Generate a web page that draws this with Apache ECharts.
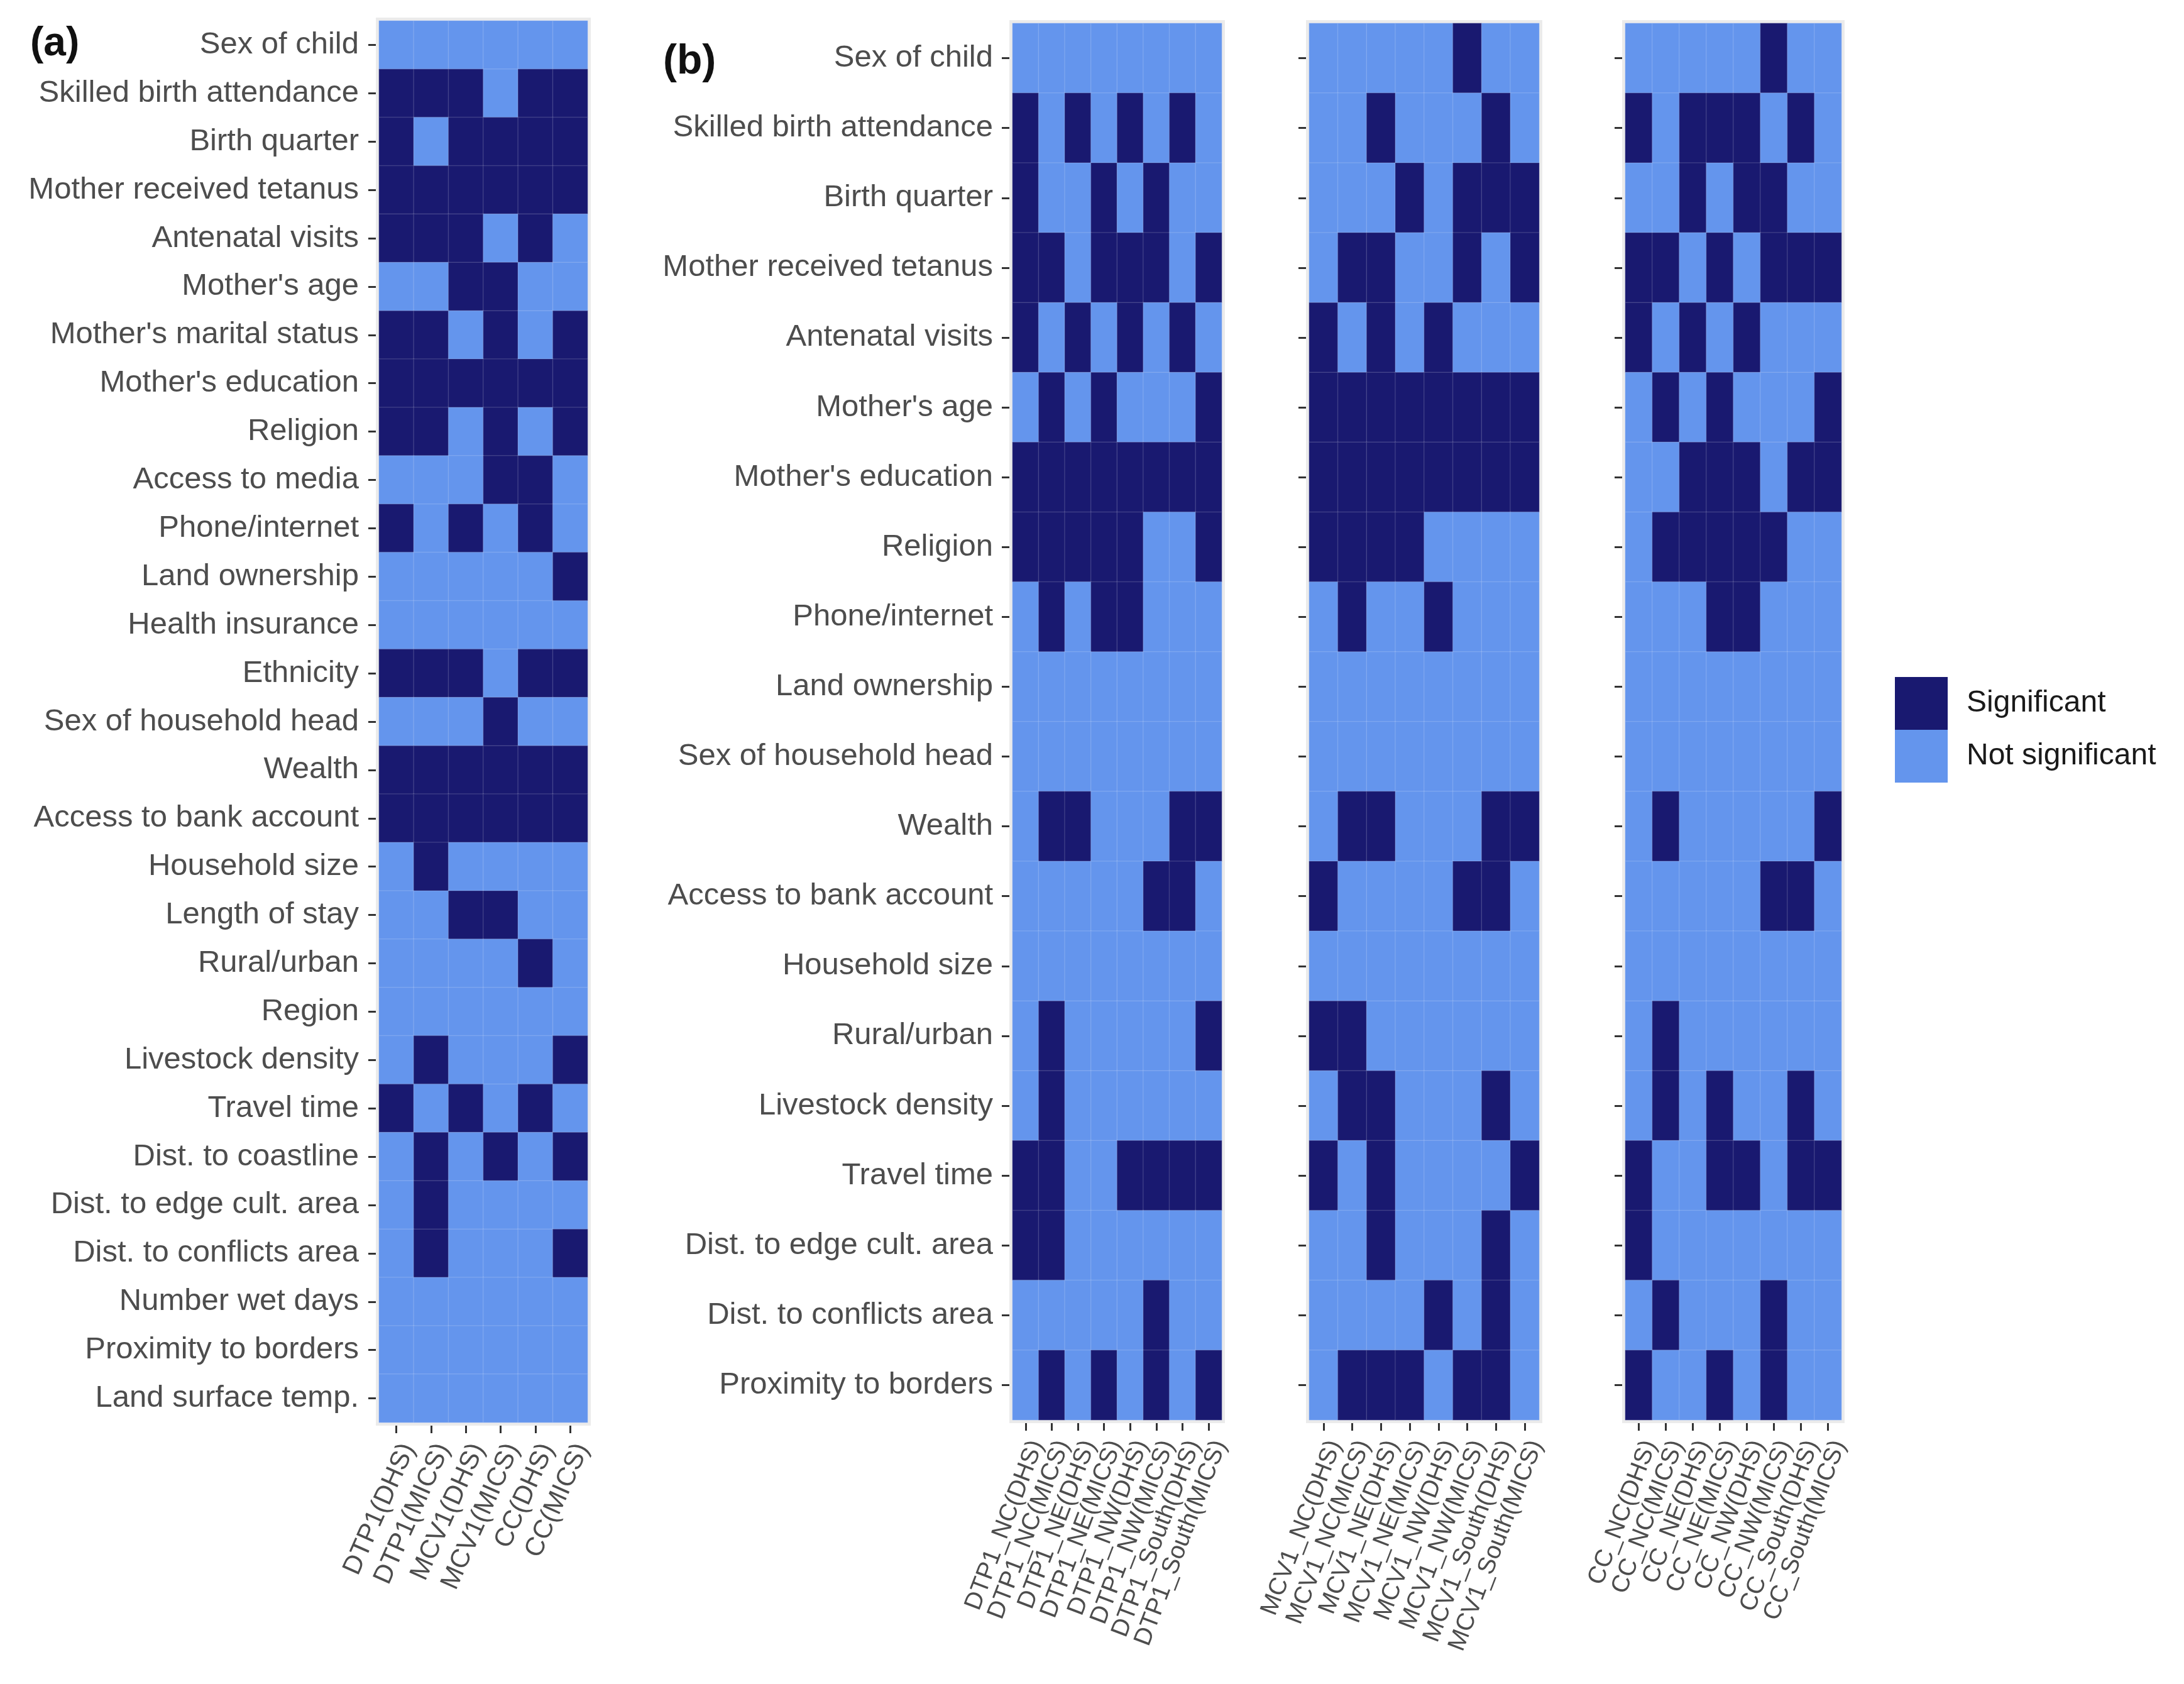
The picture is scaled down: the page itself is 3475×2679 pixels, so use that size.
<!DOCTYPE html>
<html>
<head>
<meta charset="utf-8">
<script src="https://cdn.jsdelivr.net/npm/echarts@6/dist/echarts.min.js"></script>
<style>
html,body{margin:0;padding:0;background:#fff;}
#chart{width:3475px;height:2679px;}
</style>
</head>
<body>
<div id="chart"></div>
<script>
// ---------- Data ----------
const rowsA = ['Sex of child','Skilled birth attendance','Birth quarter','Mother received tetanus','Antenatal visits',"Mother's age","Mother's marital status","Mother's education",'Religion','Access to media','Phone/internet','Land ownership','Health insurance','Ethnicity','Sex of household head','Wealth','Access to bank account','Household size','Length of stay','Rural/urban','Region','Livestock density','Travel time','Dist. to coastline','Dist. to edge cult. area','Dist. to conflicts area','Number wet days','Proximity to borders','Land surface temp.'];
const colsA = ['DTP1(DHS)','DTP1(MICS)','MCV1(DHS)','MCV1(MICS)','CC(DHS)','CC(MICS)'];
const sigA = [
  [0,0,0,0,0,0],
  [1,1,1,0,1,1],
  [1,0,1,1,1,1],
  [1,1,1,1,1,1],
  [1,1,1,0,1,0],
  [0,0,1,1,0,0],
  [1,1,0,1,0,1],
  [1,1,1,1,1,1],
  [1,1,0,1,0,1],
  [0,0,0,1,1,0],
  [1,0,1,0,1,0],
  [0,0,0,0,0,1],
  [0,0,0,0,0,0],
  [1,1,1,0,1,1],
  [0,0,0,1,0,0],
  [1,1,1,1,1,1],
  [1,1,1,1,1,1],
  [0,1,0,0,0,0],
  [0,0,1,1,0,0],
  [0,0,0,0,1,0],
  [0,0,0,0,0,0],
  [0,1,0,0,0,1],
  [1,0,1,0,1,0],
  [0,1,0,1,0,1],
  [0,1,0,0,0,0],
  [0,1,0,0,0,1],
  [0,0,0,0,0,0],
  [0,0,0,0,0,0],
  [0,0,0,0,0,0]
];

const rowsB = ['Sex of child','Skilled birth attendance','Birth quarter','Mother received tetanus','Antenatal visits',"Mother's age","Mother's education",'Religion','Phone/internet','Land ownership','Sex of household head','Wealth','Access to bank account','Household size','Rural/urban','Livestock density','Travel time','Dist. to edge cult. area','Dist. to conflicts area','Proximity to borders'];
const colsDTP1 = ['DTP1_NC(DHS)','DTP1_NC(MICS)','DTP1_NE(DHS)','DTP1_NE(MICS)','DTP1_NW(DHS)','DTP1_NW(MICS)','DTP1_South(DHS)','DTP1_South(MICS)'];
const colsMCV1 = ['MCV1_NC(DHS)','MCV1_NC(MICS)','MCV1_NE(DHS)','MCV1_NE(MICS)','MCV1_NW(DHS)','MCV1_NW(MICS)','MCV1_South(DHS)','MCV1_South(MICS)'];
const colsCC = ['CC_NC(DHS)','CC_NC(MICS)','CC_NE(DHS)','CC_NE(MICS)','CC_NW(DHS)','CC_NW(MICS)','CC_South(DHS)','CC_South(MICS)'];

const sigDTP1 = [
  [0,0,0,0,0,0,0,0],
  [1,0,1,0,1,0,1,0],
  [1,0,0,1,0,1,0,0],
  [1,1,0,1,1,1,0,1],
  [1,0,1,0,1,0,1,0],
  [0,1,0,1,0,0,0,1],
  [1,1,1,1,1,1,1,1],
  [1,1,1,1,1,0,0,1],
  [0,1,0,1,1,0,0,0],
  [0,0,0,0,0,0,0,0],
  [0,0,0,0,0,0,0,0],
  [0,1,1,0,0,0,1,1],
  [0,0,0,0,0,1,1,0],
  [0,0,0,0,0,0,0,0],
  [0,1,0,0,0,0,0,1],
  [0,1,0,0,0,0,0,0],
  [1,1,0,0,1,1,1,1],
  [1,1,0,0,0,0,0,0],
  [0,0,0,0,0,1,0,0],
  [0,1,0,1,0,1,0,1]
];
const sigMCV1 = [
  [0,0,0,0,0,1,0,0],
  [0,0,1,0,0,0,1,0],
  [0,0,0,1,0,1,1,1],
  [0,1,1,0,0,1,0,1],
  [1,0,1,0,1,0,0,0],
  [1,1,1,1,1,1,1,1],
  [1,1,1,1,1,1,1,1],
  [1,1,1,1,0,0,0,0],
  [0,1,0,0,1,0,0,0],
  [0,0,0,0,0,0,0,0],
  [0,0,0,0,0,0,0,0],
  [0,1,1,0,0,0,1,1],
  [1,0,0,0,0,1,1,0],
  [0,0,0,0,0,0,0,0],
  [1,1,0,0,0,0,0,0],
  [0,1,1,0,0,0,1,0],
  [1,0,1,0,0,0,0,1],
  [0,0,1,0,0,0,1,0],
  [0,0,0,0,1,0,1,0],
  [0,1,1,1,0,1,1,0]
];
const sigCC = [
  [0,0,0,0,0,1,0,0],
  [1,0,1,1,1,0,1,0],
  [0,0,1,0,1,1,0,0],
  [1,1,0,1,0,1,1,1],
  [1,0,1,0,1,0,0,0],
  [0,1,0,1,0,0,0,1],
  [0,0,1,1,1,0,1,1],
  [0,1,1,1,1,1,0,0],
  [0,0,0,1,1,0,0,0],
  [0,0,0,0,0,0,0,0],
  [0,0,0,0,0,0,0,0],
  [0,1,0,0,0,0,0,1],
  [0,0,0,0,0,1,1,0],
  [0,0,0,0,0,0,0,0],
  [0,1,0,0,0,0,0,0],
  [0,1,0,1,0,0,1,0],
  [1,0,0,1,1,0,1,1],
  [1,0,0,0,0,0,0,0],
  [0,1,0,0,0,1,0,0],
  [1,0,0,1,0,1,0,0]
];
const legendLabels = ['Significant','Not significant'];

// ---------- Build ----------
const DARK = '#191970', LIGHT = '#6495ED';
const FONT = "'Liberation Sans', Arial, sans-serif";
const LABEL_COLOR = '#4D4D4D';
const TICK_COLOR = '#333333';

function toCells(mat){
  const out = [];
  mat.forEach((row, r) => row.forEach((v, c) => out.push([c, r, v])));
  return out;
}

const grids = [
  {left:603, top:33, width:332, height:2230},
  {left:1611, top:37, width:333, height:2222},
  {left:2083, top:37, width:366, height:2222},
  {left:2586, top:37, width:344, height:2222}
].map(g => Object.assign(g, {show:true, backgroundColor:'#EBEBEB', borderColor:'#EBEBEB', borderWidth:10, containLabel:false}));

function xAxisFor(idx, cols, rot, fs){
  return {
    type:'category', gridIndex:idx, data:cols, position:'bottom', offset:5,
    axisLine:{show:false},
    axisTick:{show:true, alignWithLabel:true, length:12, lineStyle:{color:TICK_COLOR, width:3}},
    axisLabel:{show:true, interval:0, rotate:rot, margin:22, fontSize:fs, fontFamily:FONT, color:LABEL_COLOR, align:'right', verticalAlign:'top'},
    splitLine:{show:false}
  };
}
function yAxisFor(idx, rows, showLabel, margin){
  return {
    type:'category', gridIndex:idx, data:rows, inverse:true, offset:5,
    axisLine:{show:false},
    axisTick:{show:true, alignWithLabel:true, length:12, lineStyle:{color:TICK_COLOR, width:3}},
    axisLabel:{show:showLabel, interval:0, margin:margin, fontSize:49, fontFamily:FONT, color:LABEL_COLOR},
    splitLine:{show:false}
  };
}

const mats = [sigA, sigDTP1, sigMCV1, sigCC];
const series = mats.map((m, i) => ({
  type:'heatmap', xAxisIndex:i, yAxisIndex:i, data:toCells(m),
  itemStyle:{borderColor:'rgba(255,255,255,0.13)', borderWidth:1.5},
  emphasis:{disabled:true}, silent:true
}));

const option = {
  backgroundColor:'#ffffff',
  animation:false,
  title:[
    {text:'(a)', left:48, top:38, padding:0, textStyle:{fontSize:64, fontWeight:'bold', color:'#111111', fontFamily:FONT}},
    {text:'(b)', left:1055, top:66, padding:0, textStyle:{fontSize:66, fontWeight:'bold', color:'#111111', fontFamily:FONT}}
  ],
  grid: grids,
  xAxis:[
    xAxisFor(0, colsA, 66, 42),
    xAxisFor(1, colsDTP1, 69, 39),
    xAxisFor(2, colsMCV1, 69, 39),
    xAxisFor(3, colsCC, 69, 39)
  ],
  yAxis:[
    yAxisFor(0, rowsA, true, 27),
    yAxisFor(1, rowsB, true, 26),
    yAxisFor(2, rowsB, false, 26),
    yAxisFor(3, rowsB, false, 26)
  ],
  visualMap:{
    type:'piecewise', seriesIndex:[0,1,2,3], dimension:2,
    pieces:[
      {value:0, label:legendLabels[1], color:LIGHT},
      {value:1, label:legendLabels[0], color:DARK}
    ],
    orient:'vertical', align:'left', left:3015, top:1077, padding:0,
    itemWidth:84, itemHeight:84, itemGap:0, itemSymbol:'rect', textGap:30,
    selectedMode:false, hoverLink:false,
    textStyle:{fontSize:48, color:'#1A1A1A', fontFamily:FONT}
  },
  series: series
};

const chart = echarts.init(document.getElementById('chart'), null, {renderer:'canvas', width:3475, height:2679});
chart.setOption(option);
</script>
</body>
</html>
